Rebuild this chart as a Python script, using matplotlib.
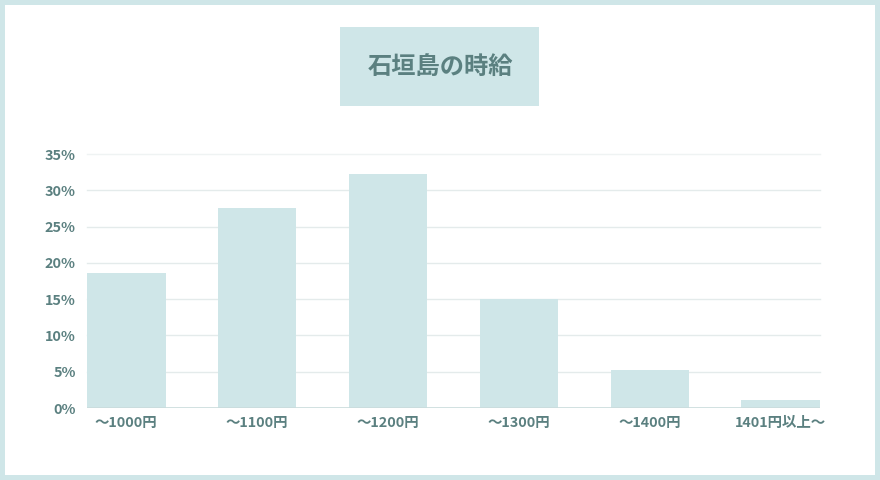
import numpy as np
import matplotlib
matplotlib.use('Agg')
import matplotlib.pyplot as plt
from matplotlib.patches import Rectangle

plt.rcParams['font.family'] = ['Noto Sans CJK JP', 'DejaVu Sans']

# Data
categories = ['〜1000円', '〜1100円', '〜1200円', '〜1300円', '〜1400円', '1401円以上〜']
values = [18.6, 27.6, 32.2, 15.0, 5.2, 1.1]
yticks = [0, 5, 10, 15, 20, 25, 30, 35]
title = '石垣島の時給'

teal = '#cfe6e8'
text_color = '#5b8080'

fig = plt.figure(figsize=(8.8, 4.8), dpi=100, facecolor=teal)

# white inner panel
fig.patches.append(Rectangle((5 / 880, 5 / 480), 870 / 880, 470 / 480,
                             transform=fig.transFigure, facecolor='white',
                             edgecolor='none', zorder=-2))
# title box
fig.patches.append(Rectangle((340 / 880, 1 - 106 / 480), 199 / 880, 79 / 480,
                             transform=fig.transFigure, facecolor=teal,
                             edgecolor='none', zorder=-1))
fig.text(440 / 880, 1 - 67 / 480, title, ha='center', va='center',
         fontsize=17.5, fontweight='bold', color=text_color)

ax = fig.add_axes([87 / 880, 72 / 480, 733 / 880, 254 / 480])
ax.set_zorder(2)
ax.set_facecolor('none')

x = np.arange(len(categories))
ax.bar(x, values, width=0.6, color=teal, zorder=2)

ax.set_xlim(-0.3, len(categories) - 0.7)
ax.set_ylim(0, 35)
ax.set_yticks(yticks)
ax.set_yticklabels([f'{v}%' for v in yticks])
ax.set_xticks(x)
ax.set_xticklabels(categories)

for v in yticks[1:]:
    ax.axhline(v, color='#e4ebeb' if v < 35 else '#eff3f3', linewidth=1,
               zorder=1, clip_on=False)
ax.axhline(0, color='#c9dcdc', linewidth=1.2, zorder=3)

for s in ax.spines.values():
    s.set_visible(False)
ax.tick_params(length=0, colors=text_color, labelsize=10.4)
ax.tick_params(axis='y', pad=8)
ax.tick_params(axis='x', pad=6)
for lbl in ax.get_xticklabels() + ax.get_yticklabels():
    lbl.set_fontweight('bold')

plt.savefig('out.png', dpi=100, facecolor=fig.get_facecolor())
